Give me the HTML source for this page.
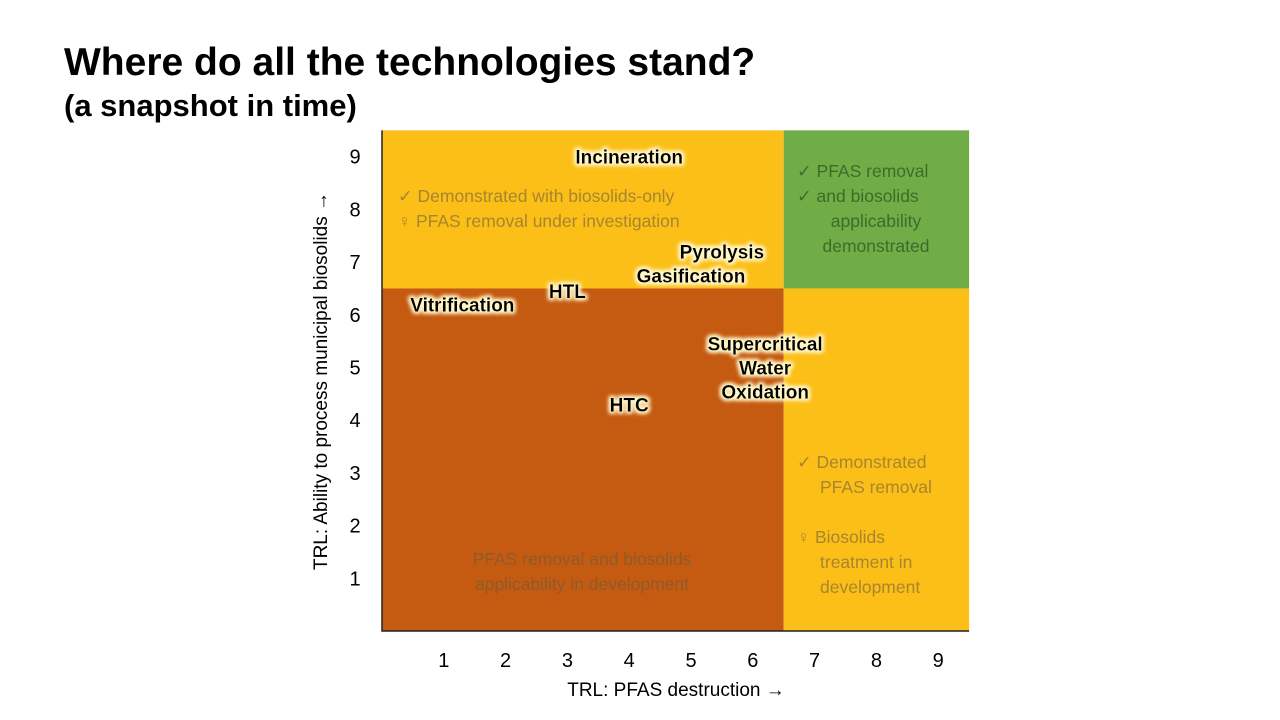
<!DOCTYPE html>
<html><head><meta charset="utf-8"><style>
body{margin:0;width:1280px;height:720px;background:#fff;overflow:hidden;font-family:"Liberation Sans",sans-serif}
.t{position:absolute;left:64px;font-weight:bold;color:#000}
</style></head><body>
<div class="t" style="top:41px;font-size:39px">Where do all the technologies stand?</div>
<div class="t" style="top:88px;font-size:31px">(a snapshot in time)</div>
<svg id="c" width="1280" height="720" style="position:absolute;left:0;top:0">
<defs><filter id="glow" x="-20%" y="-40%" width="140%" height="180%"><feMorphology operator="dilate" radius="1.5" in="SourceAlpha" result="d"/><feGaussianBlur in="d" stdDeviation="2" result="b"/><feFlood flood-color="#fff6c8"/><feComposite in2="b" operator="in" result="g"/><feMerge><feMergeNode in="g"/><feMergeNode in="g"/><feMergeNode in="SourceGraphic"/></feMerge></filter></defs>
</svg>
<script>
const xTicks=[1,2,3,4,5,6,7,8,9];
const yTicks=[1,2,3,4,5,6,7,8,9];
const techNames=["Incineration","Pyrolysis","Gasification","HTL","Vitrification","Supercritical|Water|Oxidation","HTC"];
const techX=[4,5.5,5,3,1.3,6.2,4];
const techY=[9,7.2,6.75,6.45,6.2,5,4.3];
const split=6.5, maxV=9.5;
const X=v=>382+v*61.8, Y=v=>631-v*52.7;
const svg=document.getElementById('c'), NS='http://www.w3.org/2000/svg';
function mk(t,a,p){const e=document.createElementNS(NS,t);for(const k in a)e.setAttribute(k,a[k]);(p||svg).appendChild(e);return e;}
function rect(x0,y0,x1,y1,f,n){const r=mk('rect',{x:X(x0),y:Y(y1),width:X(x1)-X(x0),height:Y(y0)-Y(y1),fill:f});

}
rect(0,split,split,maxV,'#fbbf17','quadrant-top-left');
rect(split,split,maxV,maxV,'#70ad47','quadrant-top-right');
rect(0,0,split,split,'#c55a11','quadrant-bottom-left');
rect(split,0,maxV,split,'#fbbf17','quadrant-bottom-right');
const ax=mk('path',{d:`M${X(0)},${Y(maxV)}V${Y(0)}H${X(maxV)}`,stroke:'#222','stroke-width':1.5,fill:'none'});


function txt(x,y,s,o){const e=mk('text',Object.assign({x:x,y:y,'font-size':20,'text-anchor':'middle','font-family':'Liberation Sans'},o||{}));e.textContent=s;return e;}
xTicks.forEach(v=>{const e=txt(X(v),667,v);

});
yTicks.forEach(v=>{const e=txt(355,Y(v)+7,v);

});
let e=txt(676,696,'TRL: PFAS destruction →',{'font-size':19});


e=txt(0,0,'TRL: Ability to process municipal biosolids →',{'font-size':19,transform:'translate(327,381) rotate(-90)'});


function note(lines,n,col){lines.forEach(l=>{const t=txt(l[0],l[1],l[2],{'font-size':17.5,fill:col,'text-anchor':l[3]||'middle'});

});}
note([[398,202,'✓ Demonstrated with biosolids-only','start'],[398,227,'♀ PFAS removal under investigation','start']],'top-left-note','#a8852e');
note([[797,177,'✓ PFAS removal','start'],[797,202,'✓ and biosolids','start'],[876,227,'applicability'],[876,252,'demonstrated']],'top-right-note','#3d6b2a');
note([[582,565,'PFAS removal and biosolids'],[582,590,'applicability in development']],'bottom-left-note','#8f5a2c');
note([[797,468,'✓ Demonstrated','start'],[820,493,'PFAS removal','start'],[797,543,'♀ Biosolids','start'],[820,568,'treatment in','start'],[820,593,'development','start']],'bottom-right-note','#a8852e');
techNames.forEach((n,i)=>{const ls=n.split('|');ls.forEach((l,j)=>{const t=txt(X(techX[i]),Y(techY[i])+7+(j-(ls.length-1)/2)*24,l,{'font-size':19,'font-weight':'bold',filter:'url(#glow)'});

});});
</script>
</body></html>
